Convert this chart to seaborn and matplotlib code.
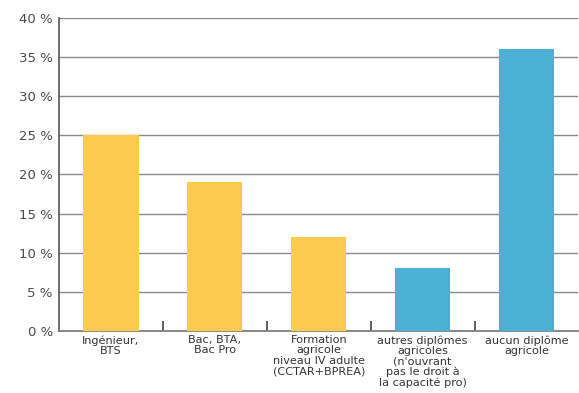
import matplotlib
matplotlib.use("Agg")
import matplotlib.pyplot as plt
from matplotlib.ticker import FixedLocator
import seaborn as sns
import pandas as pd

categories = [
    "Ingénieur,\nBTS",
    "Bac, BTA,\nBac Pro",
    "Formation\nagricole\nniveau IV adulte\n(CCTAR+BPREA)",
    "autres diplômes\nagricoles\n(n'ouvrant\npas le droit à\nla capacité pro)",
    "aucun diplôme\nagricole",
]
values = [25, 19, 12, 8, 36]
bar_colors = ["#FBCB4E", "#FBCB4E", "#FBCB4E", "#4AB1D4", "#4AB1D4"]
y_ticks = [0, 5, 10, 15, 20, 25, 30, 35, 40]

df = pd.DataFrame({"cat": categories, "val": values})

sns.set_style("white")
plt.rcParams["font.family"] = ["DejaVu Sans"]

fig = plt.figure(figsize=(5.79, 3.93), dpi=100)
ax = fig.add_axes([0.102, 0.158, 0.897, 0.796])

sns.barplot(data=df, x="cat", y="val", hue="cat", palette=bar_colors,
            legend=False, width=0.53, saturation=1, linewidth=0,
            edgecolor="none", ax=ax, zorder=3)

ax.set_ylim(0, 40)
ax.set_xlim(-0.5, 4.5)
ax.set_yticks(y_ticks)
ax.set_yticklabels([f"{t} %" for t in y_ticks], fontsize=9.5, color="#4a4a4a")
ax.yaxis.grid(True, color="#8a8a8a", linewidth=1.0, zorder=0)
ax.set_axisbelow(True)
ax.tick_params(axis="y", length=0, pad=4.5)
ax.tick_params(axis="x", length=0, pad=3, labelsize=8.1, labelcolor="#333333")
for lbl in ax.get_xticklabels():
    lbl.set_linespacing(1.05)
# small separators between categories, pointing up into the plot
ax.xaxis.set_minor_locator(FixedLocator([0.5, 1.5, 2.5, 3.5]))
ax.tick_params(axis="x", which="minor", bottom=True, direction="in",
               length=7, width=1.2, color="#444444")
ax.set_xlabel("")
ax.set_ylabel("")

for side in ["top", "right"]:
    ax.spines[side].set_visible(False)
ax.spines["left"].set_color("#555555")
ax.spines["left"].set_linewidth(1.2)
ax.spines["bottom"].set_color("#777777")
ax.spines["bottom"].set_linewidth(1.2)

fig.savefig("out.png", dpi=100)
